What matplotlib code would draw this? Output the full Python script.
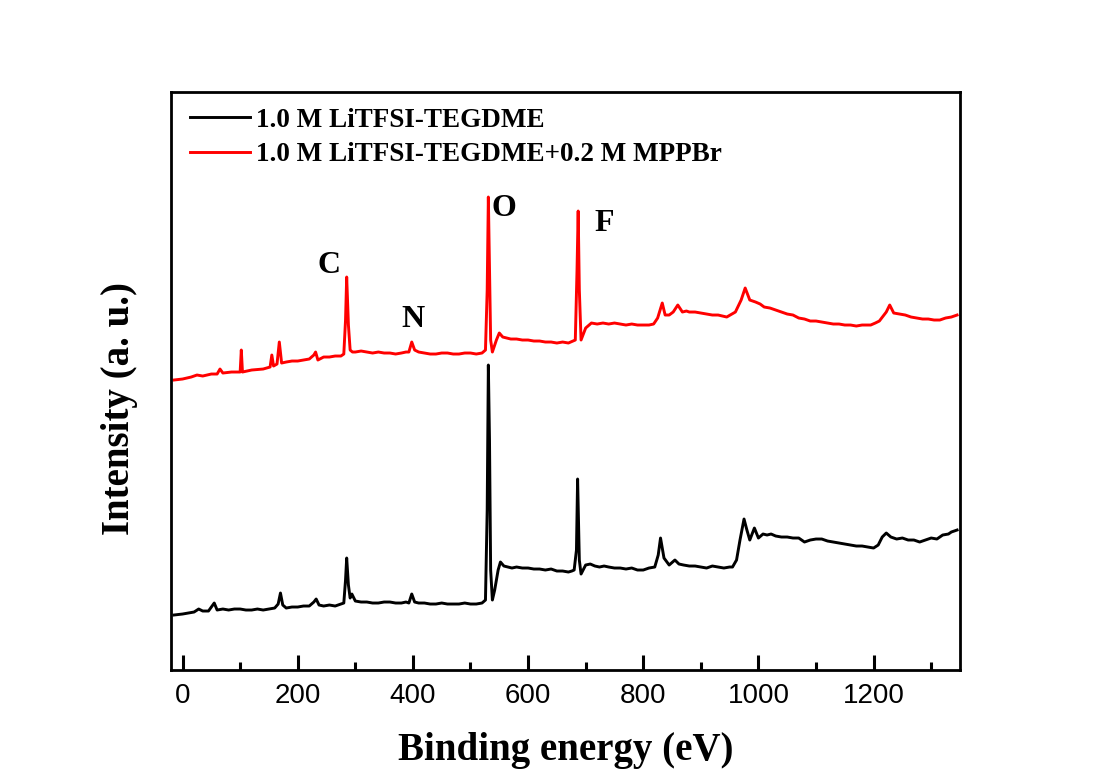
"""
XPS survey spectra of the two electrolytes, offset vertically.
Saved as out.png
"""

import matplotlib.pyplot as plt
from matplotlib.ticker import MultipleLocator

# ── Spectra (binding energy in eV, intensity in arbitrary units) ─────────────
be_base = [-15, 0, 10, 20, 28, 35, 45, 55, 60, 70, 80, 90, 100, 110, 120, 130,
           140, 150, 160, 166, 170, 174, 180, 190, 200, 210, 220, 228, 232, 237,
           245, 255, 265, 275, 280, 283, 285, 288, 291, 294, 300, 310, 320, 330,
           340, 350, 360, 370, 380, 388, 393, 398, 403, 410, 420, 430, 440, 450,
           460, 470, 480, 490, 500, 510, 520, 526, 529, 531, 533, 535, 538, 542,
           548, 552, 558, 565, 572, 580, 590, 600, 610, 620, 630, 640, 650, 660,
           670, 676, 680, 684, 686, 689, 692, 700, 708, 716, 724, 732, 740, 750,
           760, 770, 780, 790, 800, 810, 820, 826, 830, 836, 845, 855, 862, 870,
           880, 890, 900, 910, 920, 930, 940, 950, 955, 962, 968, 975, 980, 985,
           993, 1000, 1008, 1015, 1022, 1030, 1040, 1050, 1060, 1070, 1080, 1090,
           1100, 1110, 1120, 1130, 1140, 1150, 1160, 1170, 1180, 1190, 1200, 1208,
           1215, 1222, 1230, 1240, 1250, 1260, 1270, 1280, 1290, 1300, 1310, 1320,
           1330, 1335, 1340, 1345]
int_base = [55, 56, 57, 58, 61, 59, 59, 67, 60, 61, 60, 61, 61, 60, 60, 61,
            60, 61, 62, 66, 77, 65, 62, 63, 63, 64, 64, 68, 71, 65,
            64, 65, 64, 66, 67, 90, 112, 85, 72, 76, 69, 68, 68, 67,
            67, 68, 68, 67, 67, 68, 67, 76, 68, 67, 67, 66, 66, 67,
            66, 66, 66, 67, 66, 66, 67, 70, 160, 305, 230, 100, 70, 80,
            100, 108, 104, 103, 102, 103, 102, 102, 101, 101, 100, 101, 99, 99,
            98, 99, 100, 120, 191, 110, 96, 105, 106, 104, 103, 104, 103, 102,
            102, 101, 102, 100, 100, 102, 103, 115, 132, 112, 105, 110, 106, 105,
            104, 104, 103, 102, 104, 103, 102, 103, 103, 110, 130, 151, 140, 130,
            142, 132, 136, 135, 136, 134, 133, 133, 132, 132, 128, 130,
            131, 131, 129, 128, 127, 126, 125, 124, 124, 123, 122, 125,
            133, 137, 133, 131, 132, 130, 130, 128, 130, 132, 131, 135,
            136, 138, 139, 140]

be_mppbr = [-15, 0, 15, 25, 35, 50, 60, 65, 70, 85, 100, 102, 104, 120, 140, 152,
            155, 158, 164, 168, 172, 180, 190, 200, 210, 220, 228, 231, 235, 245,
            255, 265, 275, 280, 283, 285, 288, 291, 295, 300, 310, 320, 330, 340,
            350, 360, 370, 380, 388, 393, 398, 403, 410, 420, 430, 440, 450, 460,
            470, 480, 490, 500, 510, 520, 526, 529, 531, 533, 535, 538, 545, 550,
            556, 563, 570, 580, 590, 600, 610, 620, 630, 640, 650, 660, 670, 682,
            685, 687, 689, 692, 700, 710, 720, 730, 740, 750, 760, 770, 780, 790,
            800, 810, 818, 825, 833, 838, 845, 852, 860, 868, 875, 880, 890, 900,
            910, 920, 930, 945, 960, 970, 977, 985, 995, 1003, 1010, 1020, 1030,
            1040, 1050, 1060, 1070, 1080, 1090, 1100, 1110, 1120, 1130, 1140,
            1150, 1160, 1170, 1180, 1195, 1203, 1210, 1222, 1228, 1235, 1245,
            1255, 1265, 1275, 1285, 1295, 1305, 1315, 1325, 1335, 1345]
int_mppbr = [290, 291, 293, 295, 294, 296, 296, 301, 297, 298, 298, 320, 298, 300, 301, 303,
             315, 304, 306, 328, 307, 308, 309, 309, 310, 311, 315, 318, 310, 313,
             313, 314, 314, 316, 350, 393, 345, 320, 318, 318, 319, 318, 317, 318,
             317, 317, 316, 317, 318, 318, 328, 320, 318, 317, 316, 316, 317, 317,
             316, 316, 317, 317, 316, 317, 320, 380, 473, 400, 330, 318, 330, 337,
             333, 332, 331, 331, 330, 330, 329, 329, 328, 328, 327, 328, 327, 330,
             400, 459, 380, 330, 342, 347, 346, 347, 346, 347, 346, 345, 346, 345,
             345, 345, 346, 352, 367, 355, 355, 358, 365, 358, 359, 358, 358, 357,
             356, 355, 355, 353, 358, 370, 382, 370, 368, 366, 363, 362, 360,
             358, 356, 355, 352, 351, 349, 349, 348, 347, 346, 346,
             345, 345, 344, 345, 345, 347, 349, 358, 365, 357, 356,
             355, 353, 352, 351, 351, 350, 350, 352, 353, 355]

series_labels = ['1.0 M LiTFSI-TEGDME', '1.0 M LiTFSI-TEGDME+0.2 M MPPBr']
series_colors = ['black', 'red']

# element labels: (text, energy, intensity)
elem_labels = ['C', 'N', 'O', 'F']
elem_be = [255, 400, 558, 733]
elem_int = [405, 351, 462, 447]

x_ticks = [0, 200, 400, 600, 800, 1000, 1200]

SERIF = 'Liberation Serif'
SANS = 'Liberation Sans'

# ── Figure ────────────────────────────────────────────────────────────────────
fig = plt.figure(figsize=(11, 7.72), dpi=100)
ax = fig.add_axes([0.1555, 0.1321, 0.7172, 0.7487])

ax.plot(be_base, int_base, color=series_colors[0], lw=2.1, label=series_labels[0])
ax.plot(be_mppbr, int_mppbr, color=series_colors[1], lw=2.1, label=series_labels[1])

for t, xv, yv in zip(elem_labels, elem_be, elem_int):
    ax.text(xv, yv, t, fontsize=23, fontweight='bold', family=SERIF,
            ha='center', va='center')

ax.set_xlim(-20, 1350)
ax.set_ylim(0, 578)

ax.set_xticks(x_ticks)
ax.xaxis.set_minor_locator(MultipleLocator(100))
ax.tick_params(axis='x', which='major', direction='in', length=11, width=2.2,
               labelsize=20, pad=9)
ax.tick_params(axis='x', which='minor', direction='in', length=6, width=2.2)
ax.tick_params(axis='y', left=False, labelleft=False)
for lab in ax.get_xticklabels():
    lab.set_family(SANS)

for sp in ax.spines.values():
    sp.set_linewidth(2.0)

ax.set_xlabel('Binding energy (eV)', fontsize=28, fontweight='bold',
              family=SERIF, labelpad=17)
ax.set_ylabel('Intensity (a. u.)', fontsize=28, fontweight='bold', family=SERIF)
ax.yaxis.set_label_coords(-0.042, 0.452)

ax.legend(loc='upper left', bbox_to_anchor=(0.0, 1.006), frameon=False,
          handlelength=2.2, handletextpad=0.25, labelspacing=0.35,
          borderaxespad=0.3,
          prop={'family': SERIF, 'weight': 'bold', 'size': 19.5})

fig.savefig('out.png', dpi=100)
